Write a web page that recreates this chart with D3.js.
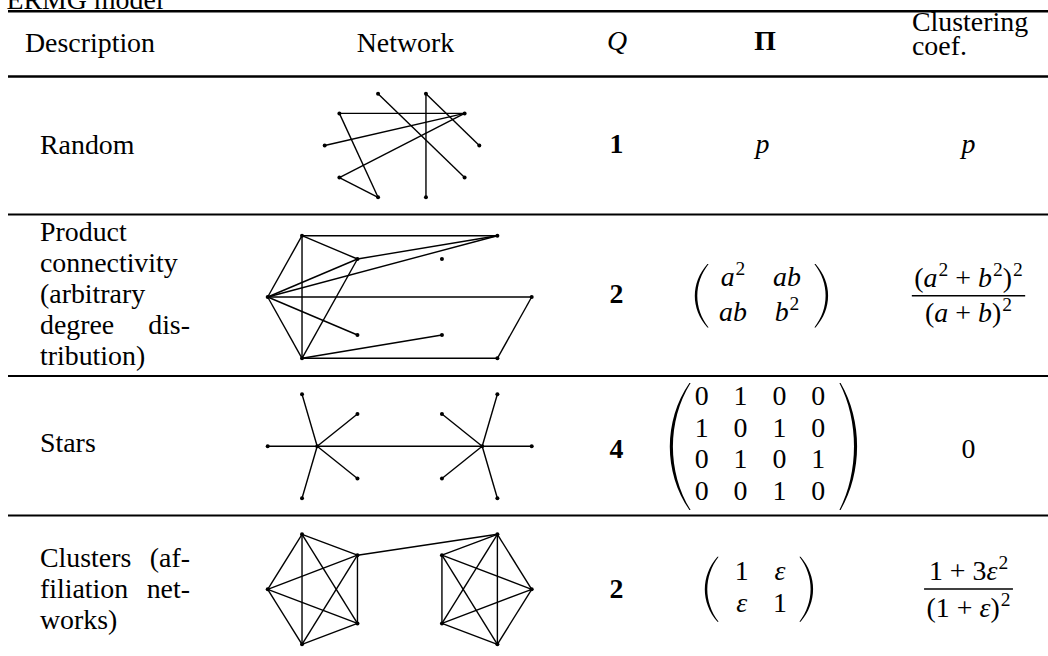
<!DOCTYPE html>
<html><head><meta charset="utf-8">
<script src="https://cdn.jsdelivr.net/npm/d3@7"></script>
<style>
body{margin:0;background:#fff}
svg{display:block}
text{fill:#000;white-space:pre}
</style>
</head><body>
<svg id="chart" width="1048" height="656"></svg>
<script>
// ---------------- data ----------------
const title = "ERMG model";
const headers = ["Description", "Network", "Q", "Π", ["Clustering", "coef."]];
const descriptions = [
  ["Random"],
  ["Product", "connectivity", "(arbitrary", "degree dis-", "tribution)"],
  ["Stars"],
  ["Clusters (af-", "filiation net-", "works)"]
];
const qValues = ["1", "2", "4", "2"];
const piValues = [
  "p",
  [["a^2", "ab"], ["ab", "b^2"]],
  [["0", "1", "0", "0"], ["1", "0", "1", "0"], ["0", "1", "0", "1"], ["0", "0", "1", "0"]],
  [["1", "ε"], ["ε", "1"]]
];
const clusteringValues = [
  "p",
  ["(a^2 + b^2)^2", "(a + b)^2"],
  "0",
  ["1 + 3ε^2", "(1 + ε)^2"]
];
// network node layouts (normalised units)
const randomNodes = [[-1, 0], [-0.81, -0.62], [-0.31, -1], [0.31, -1], [0.81, -0.62],
                     [1, 0], [0.81, 0.62], [0.31, 1], [-0.31, 1], [-0.81, 0.62]];
const gridNodes = [[-1, 0], [-0.74, -1], [-0.32, -0.62], [0.32, -0.62], [0.74, -1],
                   [1, 0], [0.74, 1], [0.32, 0.62], [-0.32, 0.62], [-0.74, 1]];
const hubNodes = [[-0.625, 0], [0.625, 0]];
const randomEdges = [[2, 6], [3, 5], [3, 7], [1, 4], [0, 4], [9, 4], [1, 8], [9, 8]];
const productEdges = [[1, 4], [1, 2], [1, 0], [1, 9], [2, 4], [0, 4], [0, 2], [0, 5],
                      [0, 8], [0, 9], [2, 9], [9, 7], [9, 6], [6, 5]];
const starEdges = [[10, 0], [10, 1], [10, 2], [10, 8], [10, 9],
                   [11, 3], [11, 4], [11, 5], [11, 6], [11, 7], [10, 11]];
const clusterEdges = [[1, 2], [1, 0], [1, 8], [1, 9], [2, 0], [2, 8], [2, 9], [0, 8], [0, 9], [8, 9],
                      [4, 3], [4, 5], [4, 7], [4, 6], [3, 5], [3, 7], [3, 6], [5, 7], [5, 6], [7, 6],
                      [2, 4]];

// ---------------- font pick ----------------
const ctx = document.createElement("canvas").getContext("2d");
function width(font, s) { ctx.font = font; return ctx.measureText(s).width; }
function hasFont(name) {
  const s = "Description Wgm 0123 abc";
  return width('40px monospace', s) !== width('40px "' + name + '", monospace', s) ||
         width('40px sans-serif', s) !== width('40px "' + name + '", sans-serif', s);
}
const candidates = ["Liberation Serif", "Tinos", "Times New Roman", "Nimbus Roman", "Noto Serif", "DejaVu Serif", "FreeSerif"];
const FONT = candidates.find(hasFont) || "serif";
const famCss = '"' + FONT + '", serif';
const FS = Math.min(30, 28 * 130 / width('28px ' + famCss, "Description"));
const SUP = FS * 0.7;
d3.select("head").append("style").text("text{font-family:" + famCss + "}");

// ---------------- layout ----------------
const svg = d3.select("#chart");
const ruleY = [11.3, 76.5, 214.5, 376, 515.5];
const ruleW = [2.4, 2.4, 2, 2, 2];
const rowTextCenter = [145.5, 295, 444, 589.5];
const qBase = [153, 302.5, 458, 597.5];
const descX0 = 40, descX1 = 190, lineStep = 31;
const colX = {q: 616.5, pi: 762, cl: 968.5};

svg.selectAll("line.rule").data(ruleY).join("line")
  .attr("x1", 8).attr("x2", 1048)
  .attr("y1", d => d).attr("y2", d => d)
  .attr("stroke", "#000").attr("stroke-width", (d, i) => ruleW[i]);

svg.append("text").attr("x", 6.5).attr("y", 8.5).style("font-size", FS + "px").text(title);

function mathText(sel, str, x, y, anchor) {
  const t = sel.append("text").attr("x", x).attr("y", y)
    .attr("text-anchor", anchor || "middle").style("font-size", FS + "px");
  const segs = [];
  for (let i = 0; i < str.length; i++) {
    const c = str[i];
    if (c === "^") { segs.push({text: str[i + 1], sup: true}); i++; continue; }
    const it = /[A-Za-zε]/.test(c);
    const last = segs[segs.length - 1];
    if (last && !last.sup && last.it === it) last.text += c;
    else segs.push({text: c, it: it});
  }
  let shift = 0;
  segs.forEach(s => {
    const ts = t.append("tspan").text(s.text);
    if (s.it) ts.style("font-style", "italic");
    if (s.sup) { ts.attr("dy", -11 - shift).attr("dx", 1).style("font-size", SUP + "px"); shift = 11; }
    else if (shift) { ts.attr("dy", shift); shift = 0; }
  });
  return t;
}

// headers
const hy = 51.5;
svg.append("text").attr("x", 25).attr("y", hy).style("font-size", FS + "px").text(headers[0]);
svg.append("text").attr("x", 405.5).attr("y", hy).attr("text-anchor", "middle").style("font-size", FS + "px").text(headers[1]);
svg.append("text").attr("x", 617).attr("y", 50).attr("text-anchor", "middle").style("font-size", FS + "px").style("font-style", "italic").text(headers[2]);
svg.append("text").attr("x", 765).attr("y", 50).attr("text-anchor", "middle").style("font-size", FS + "px").style("font-weight", "bold").text(headers[3]);
svg.append("text").attr("x", 912).attr("y", 31).style("font-size", FS + "px").text(headers[4][0]);
svg.append("text").attr("x", 912).attr("y", 55).style("font-size", FS + "px").text(headers[4][1]);

// descriptions (justified paragraph)
descriptions.forEach((lines, r) => {
  const y0 = rowTextCenter[r] - (lines.length - 1) * lineStep / 2 + 8;
  lines.forEach((line, k) => {
    const y = y0 + k * lineStep;
    const words = line.split(" ");
    const isLast = k === lines.length - 1;
    if (words.length > 1 && !isLast) {
      svg.append("text").attr("x", descX0).attr("y", y).style("font-size", FS + "px").text(words[0]);
      svg.append("text").attr("x", descX1).attr("y", y).attr("text-anchor", "end").style("font-size", FS + "px").text(words[words.length - 1]);
    } else {
      svg.append("text").attr("x", descX0).attr("y", y).style("font-size", FS + "px").text(line);
    }
  });
});

// networks
const nets = [
  {nodes: randomNodes, edges: randomEdges, xr: [324.7, 479.3], yr: [93.7, 197.3]},
  {nodes: gridNodes, edges: productEdges, xr: [267.7, 531.7], yr: [235.7, 358.3]},
  {nodes: gridNodes.concat(hubNodes), edges: starEdges, xr: [267.7, 531.7], yr: [394.3, 498.3]},
  {nodes: gridNodes, edges: clusterEdges, xr: [267.7, 531.7], yr: [534.3, 644.3]}
];
nets.forEach(net => {
  const x = d3.scaleLinear().domain([-1, 1]).range(net.xr);
  const y = d3.scaleLinear().domain([-1, 1]).range(net.yr);
  const g = svg.append("g");
  g.selectAll("line").data(net.edges).join("line")
    .attr("x1", d => x(net.nodes[d[0]][0])).attr("y1", d => y(net.nodes[d[0]][1]))
    .attr("x2", d => x(net.nodes[d[1]][0])).attr("y2", d => y(net.nodes[d[1]][1]))
    .attr("stroke", "#000").attr("stroke-width", 1.4);
  g.selectAll("circle").data(net.nodes).join("circle")
    .attr("cx", d => x(d[0])).attr("cy", d => y(d[1])).attr("r", 2).attr("fill", "#000");
});

// Q column
qValues.forEach((q, r) => {
  svg.append("text").attr("x", colX.q).attr("y", qBase[r]).attr("text-anchor", "middle")
    .style("font-size", FS + "px").style("font-weight", "bold").text(q);
});

function paren(x0, x1, y0, y1, t, left) {
  const h = y1 - y0, k = h * 0.3;
  const c = (4 * x0 - x1) / 3;
  const ci = (4 * (x0 + (left ? t : -t)) - x1) / 3;
  const e = left ? 0.6 : -0.6;
  const p = d3.path();
  p.moveTo(x1 - e, y0);
  p.bezierCurveTo(c, y0 + k, c, y1 - k, x1 - e, y1);
  p.lineTo(x1 + e, y1);
  p.bezierCurveTo(ci, y1 - k, ci, y0 + k, x1 + e, y0);
  p.closePath();
  svg.append("path").attr("d", p.toString()).attr("fill", "#000");
}

// Π column
const matLayout = [
  null,
  {cols: [733, 787], rows: [285.7, 320.7], L: [695, 708], R: [828, 815], y: [264, 327.5], t: 2.2},
  {cols: [701.7, 818.3], rows: [405, 500], L: [670, 690], R: [857, 840], y: [383, 510], t: 2.8},
  {cols: [741.7, 780], rows: [580, 611.7], L: [705, 718], R: [813, 800], y: [556.7, 621.7], t: 2.2}
];
piValues.forEach((v, r) => {
  if (typeof v === "string") { mathText(svg, v, colX.pi + 0.5, 153); return; }
  const L = matLayout[r];
  const cx = d3.scalePoint().domain(d3.range(v[0].length)).range(L.cols);
  const cy = d3.scalePoint().domain(d3.range(v.length)).range(L.rows);
  v.forEach((row, i) => row.forEach((cell, j) => mathText(svg, cell, cx(j), cy(i))));
  paren(L.L[0], L.L[1], L.y[0], L.y[1], L.t, true);
  paren(L.R[0], L.R[1], L.y[0], L.y[1], L.t, false);
});

// Clustering column
const fracLayout = [null, {num: 287.3, bar: 295.7, den: 322.3}, null, {num: 580, bar: 589, den: 616.7}];
clusteringValues.forEach((v, r) => {
  if (typeof v === "string") {
    mathText(svg, v, colX.cl, r === 0 ? 153 : 458.3);
    return;
  }
  const F = fracLayout[r];
  const n = mathText(svg, v[0], colX.cl, F.num);
  const d = mathText(svg, v[1], colX.cl, F.den);
  const w = Math.max(n.node().getBBox().width, d.node().getBBox().width) + 5;
  svg.append("line").attr("x1", colX.cl - w / 2).attr("x2", colX.cl + w / 2)
    .attr("y1", F.bar).attr("y2", F.bar).attr("stroke", "#000").attr("stroke-width", 1.4);
});
</script>
</body></html>
